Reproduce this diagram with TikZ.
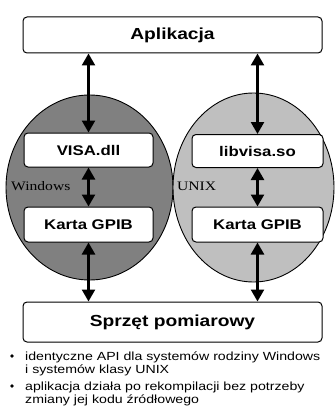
\documentclass[tikz,border=0pt]{standalone}
\usepackage{fontspec}
\setmainfont{Liberation Serif}[FakeStretch=1.2]
\setsansfont{Liberation Sans}[FakeStretch=1.2]
\usetikzlibrary{arrows.meta}
\usetikzlibrary{positioning}

\begin{document}
\begin{tikzpicture}[x=1pt,y=-1pt,
  box/.style={draw,fill=white,rounded corners=4pt,line width=1pt,
    inner sep=0pt,font=\sffamily\bfseries\fontsize{14}{16}\selectfont},
  bigbox/.style={box,minimum width=299pt,
    font=\sffamily\bfseries\fontsize{16}{18}\selectfont},
  link/.style={line width=2.4pt,
    {Triangle[length=12pt,width=13pt]}-{Triangle[length=12pt,width=13pt]}},
  os/.style={inner sep=0pt,anchor=west,font=\rmfamily\fontsize{13}{15}\selectfont},
  note/.style={inner sep=0pt,anchor=north west,align=left,
    font=\sffamily\fontsize{11.8}{13}\selectfont}]
  \useasboundingbox (0,0) rectangle (335,412);

  % the two systems
  \draw[fill=black!50,line width=0.9pt] (89.5,187.5) ellipse [x radius=83.5,y radius=92.5];
  \draw[fill=black!25,line width=0.9pt] (253.5,187.5) ellipse [x radius=80.5,y radius=94.5];
  \node[os] (win) at (11,186) {Windows};
  \node[os] (unix) at (177,186) {UNIX};

  % layers
  \node[bigbox,minimum height=36pt] (apl) at (172.5,35) {Aplikacja};
  \node[box,minimum width=129pt,minimum height=34pt] (visa) at (88.5,150) {VISA.dll};
  \node[box,minimum width=129pt,minimum height=35pt] (kartaw) at (88.5,224.5) {Karta GPIB};
  \node[box,minimum width=131pt,minimum height=33pt] (libvisa) at (257.5,151) {libvisa.so};
  \node[box,minimum width=131pt,minimum height=35pt] (kartau) at (257.5,224.5) {Karta GPIB};
  \node[bigbox,minimum height=40pt] (sprzet) at (172.5,322) {Sprzęt pomiarowy};

  \draw[link] (visa.north) -- (visa.north |- apl.south);
  \draw[link] (visa.south) -- (kartaw.north);
  \draw[link] (kartaw.south) -- (kartaw.south |- sprzet.north);
  \draw[link] (libvisa.north) -- (libvisa.north |- apl.south);
  \draw[link] (libvisa.south) -- (kartau.north);
  \draw[link] (kartau.south) -- (kartau.south |- sprzet.north);

  % notes
  \node[note] (note1) at (25,352) {identyczne API dla systemów rodziny Windows\\i systemów klasy UNIX};
  \node[note] (note2) at (25,382) {aplikacja działa po rekompilacji bez potrzeby\\zmiany jej kodu źródłowego};
  \fill (12,356) circle[radius=1.8];
  \fill (12,386) circle[radius=1.8];
\end{tikzpicture}
\end{document}
